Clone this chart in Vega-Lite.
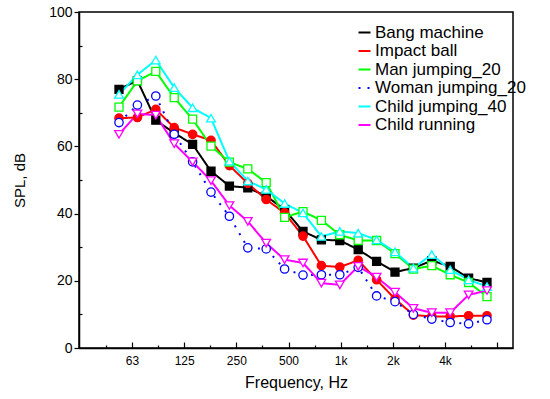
{
  "$schema": "https://vega.github.io/schema/vega-lite/v6.json",
  "width": 434,
  "height": 336,
  "autosize": "none",
  "padding": {"left": 79, "top": 12, "right": 37, "bottom": 51},
  "background": "white",
  "config": {
    "view": {"stroke": "black", "strokeWidth": 1.5},
    "font": "Liberation Sans"
  },
  "datasets": {
    "spl": [
      {"series":"Bang machine","band":0,"hz":50,"spl":77.0},{"series":"Bang machine","band":1,"hz":63,"spl":79.6},{"series":"Bang machine","band":2,"hz":80,"spl":67.8},{"series":"Bang machine","band":3,"hz":100,"spl":64.0},{"series":"Bang machine","band":4,"hz":125,"spl":60.6},{"series":"Bang machine","band":5,"hz":160,"spl":52.6},{"series":"Bang machine","band":6,"hz":200,"spl":48.2},{"series":"Bang machine","band":7,"hz":250,"spl":47.7},{"series":"Bang machine","band":8,"hz":315,"spl":45.2},{"series":"Bang machine","band":9,"hz":400,"spl":41.2},{"series":"Bang machine","band":10,"hz":500,"spl":34.7},{"series":"Bang machine","band":11,"hz":630,"spl":32.2},{"series":"Bang machine","band":12,"hz":800,"spl":32.0},{"series":"Bang machine","band":13,"hz":1000,"spl":29.3},{"series":"Bang machine","band":14,"hz":1250,"spl":25.8},{"series":"Bang machine","band":15,"hz":1600,"spl":22.6},{"series":"Bang machine","band":16,"hz":2000,"spl":23.8},{"series":"Bang machine","band":17,"hz":2500,"spl":26.0},{"series":"Bang machine","band":18,"hz":3150,"spl":24.3},{"series":"Bang machine","band":19,"hz":4000,"spl":20.8},{"series":"Bang machine","band":20,"hz":5000,"spl":19.5},
      {"series":"Impact ball","band":0,"hz":50,"spl":68.4},{"series":"Impact ball","band":1,"hz":63,"spl":68.6},{"series":"Impact ball","band":2,"hz":80,"spl":71.0},{"series":"Impact ball","band":3,"hz":100,"spl":65.6},{"series":"Impact ball","band":4,"hz":125,"spl":63.6},{"series":"Impact ball","band":5,"hz":160,"spl":61.8},{"series":"Impact ball","band":6,"hz":200,"spl":54.3},{"series":"Impact ball","band":7,"hz":250,"spl":49.0},{"series":"Impact ball","band":8,"hz":315,"spl":44.2},{"series":"Impact ball","band":9,"hz":400,"spl":40.2},{"series":"Impact ball","band":10,"hz":500,"spl":33.3},{"series":"Impact ball","band":11,"hz":630,"spl":24.5},{"series":"Impact ball","band":12,"hz":800,"spl":24.1},{"series":"Impact ball","band":13,"hz":1000,"spl":26.1},{"series":"Impact ball","band":14,"hz":1250,"spl":20.3},{"series":"Impact ball","band":15,"hz":1600,"spl":14.6},{"series":"Impact ball","band":16,"hz":2000,"spl":9.8},{"series":"Impact ball","band":17,"hz":2500,"spl":9.4},{"series":"Impact ball","band":18,"hz":3150,"spl":9.4},{"series":"Impact ball","band":19,"hz":4000,"spl":9.6},{"series":"Impact ball","band":20,"hz":5000,"spl":9.6},
      {"series":"Man jumping_20","band":0,"hz":50,"spl":71.7},{"series":"Man jumping_20","band":1,"hz":63,"spl":79.5},{"series":"Man jumping_20","band":2,"hz":80,"spl":82.3},{"series":"Man jumping_20","band":3,"hz":100,"spl":74.5},{"series":"Man jumping_20","band":4,"hz":125,"spl":68.1},{"series":"Man jumping_20","band":5,"hz":160,"spl":60.1},{"series":"Man jumping_20","band":6,"hz":200,"spl":55.3},{"series":"Man jumping_20","band":7,"hz":250,"spl":53.3},{"series":"Man jumping_20","band":8,"hz":315,"spl":49.2},{"series":"Man jumping_20","band":9,"hz":400,"spl":38.9},{"series":"Man jumping_20","band":10,"hz":500,"spl":40.6},{"series":"Man jumping_20","band":11,"hz":630,"spl":38.0},{"series":"Man jumping_20","band":12,"hz":800,"spl":33.7},{"series":"Man jumping_20","band":13,"hz":1000,"spl":32.0},{"series":"Man jumping_20","band":14,"hz":1250,"spl":32.0},{"series":"Man jumping_20","band":15,"hz":1600,"spl":28.1},{"series":"Man jumping_20","band":16,"hz":2000,"spl":23.5},{"series":"Man jumping_20","band":17,"hz":2500,"spl":24.5},{"series":"Man jumping_20","band":18,"hz":3150,"spl":21.8},{"series":"Man jumping_20","band":19,"hz":4000,"spl":19.5},{"series":"Man jumping_20","band":20,"hz":5000,"spl":15.3},
      {"series":"Woman jumping_20","band":0,"hz":50,"spl":67.1},{"series":"Woman jumping_20","band":1,"hz":63,"spl":72.3},{"series":"Woman jumping_20","band":2,"hz":80,"spl":75.0},{"series":"Woman jumping_20","band":3,"hz":100,"spl":63.6},{"series":"Woman jumping_20","band":4,"hz":125,"spl":55.4},{"series":"Woman jumping_20","band":5,"hz":160,"spl":46.4},{"series":"Woman jumping_20","band":6,"hz":200,"spl":39.2},{"series":"Woman jumping_20","band":7,"hz":250,"spl":29.8},{"series":"Woman jumping_20","band":8,"hz":315,"spl":29.5},{"series":"Woman jumping_20","band":9,"hz":400,"spl":23.5},{"series":"Woman jumping_20","band":10,"hz":500,"spl":21.7},{"series":"Woman jumping_20","band":11,"hz":630,"spl":21.8},{"series":"Woman jumping_20","band":12,"hz":800,"spl":21.8},{"series":"Woman jumping_20","band":13,"hz":1000,"spl":24.0},{"series":"Woman jumping_20","band":14,"hz":1250,"spl":15.5},{"series":"Woman jumping_20","band":15,"hz":1600,"spl":13.8},{"series":"Woman jumping_20","band":16,"hz":2000,"spl":10.0},{"series":"Woman jumping_20","band":17,"hz":2500,"spl":8.6},{"series":"Woman jumping_20","band":18,"hz":3150,"spl":7.6},{"series":"Woman jumping_20","band":19,"hz":4000,"spl":7.2},{"series":"Woman jumping_20","band":20,"hz":5000,"spl":8.4},
      {"series":"Child jumping_40","band":0,"hz":50,"spl":75.5},{"series":"Child jumping_40","band":1,"hz":63,"spl":81.3},{"series":"Child jumping_40","band":2,"hz":80,"spl":85.7},{"series":"Child jumping_40","band":3,"hz":100,"spl":77.5},{"series":"Child jumping_40","band":4,"hz":125,"spl":71.5},{"series":"Child jumping_40","band":5,"hz":160,"spl":68.4},{"series":"Child jumping_40","band":6,"hz":200,"spl":55.6},{"series":"Child jumping_40","band":7,"hz":250,"spl":49.7},{"series":"Child jumping_40","band":8,"hz":315,"spl":47.2},{"series":"Child jumping_40","band":9,"hz":400,"spl":43.0},{"series":"Child jumping_40","band":10,"hz":500,"spl":40.2},{"series":"Child jumping_40","band":11,"hz":630,"spl":33.2},{"series":"Child jumping_40","band":12,"hz":800,"spl":34.7},{"series":"Child jumping_40","band":13,"hz":1000,"spl":34.2},{"series":"Child jumping_40","band":14,"hz":1250,"spl":32.2},{"series":"Child jumping_40","band":15,"hz":1600,"spl":28.6},{"series":"Child jumping_40","band":16,"hz":2000,"spl":23.8},{"series":"Child jumping_40","band":17,"hz":2500,"spl":27.8},{"series":"Child jumping_40","band":18,"hz":3150,"spl":23.3},{"series":"Child jumping_40","band":19,"hz":4000,"spl":20.3},{"series":"Child jumping_40","band":20,"hz":5000,"spl":18.3},
      {"series":"Child running","band":0,"hz":50,"spl":63.6},{"series":"Child running","band":1,"hz":63,"spl":69.7},{"series":"Child running","band":2,"hz":80,"spl":69.3},{"series":"Child running","band":3,"hz":100,"spl":60.8},{"series":"Child running","band":4,"hz":125,"spl":55.4},{"series":"Child running","band":5,"hz":160,"spl":49.8},{"series":"Child running","band":6,"hz":200,"spl":42.4},{"series":"Child running","band":7,"hz":250,"spl":37.7},{"series":"Child running","band":8,"hz":315,"spl":31.2},{"series":"Child running","band":9,"hz":400,"spl":26.3},{"series":"Child running","band":10,"hz":500,"spl":25.3},{"series":"Child running","band":11,"hz":630,"spl":19.3},{"series":"Child running","band":12,"hz":800,"spl":18.8},{"series":"Child running","band":13,"hz":1000,"spl":24.3},{"series":"Child running","band":14,"hz":1250,"spl":21.1},{"series":"Child running","band":15,"hz":1600,"spl":16.6},{"series":"Child running","band":16,"hz":2000,"spl":11.8},{"series":"Child running","band":17,"hz":2500,"spl":10.5},{"series":"Child running","band":18,"hz":3150,"spl":10.5},{"series":"Child running","band":19,"hz":4000,"spl":15.8},{"series":"Child running","band":20,"hz":5000,"spl":17.1}
    ]
  },
  "data": {"name": "spl"},
  "encoding": {
    "x": {
      "field": "band",
      "type": "quantitative",
      "scale": {"domain": [-2.174, 21.413], "nice": false, "zero": false},
      "axis": {
        "title": "Frequency, Hz",
        "titleFontSize": 16,
        "titleFontWeight": "normal",
        "titleColor": "black",
        "titlePadding": 5,
        "values": [-0.711, 0.707, 2.124, 3.542, 4.959, 6.377, 7.794, 9.212, 10.629, 12.047, 13.464, 14.882, 16.299, 17.717, 19.134, 20.552],
        "labelExpr": "['63','','125','','250','','500','','1k','','2k','','4k'][round((datum.value-0.707)/1.4175)] || ''",
        "tickSize": {"condition": {"test": "round((datum.value-0.707)/1.4175) % 2 == 0", "value": -6}, "value": -3},
        "labelPadding": 13,
        "labelFontSize": 12,
        "labelColor": "black",
        "labelFlush": false,
        "labelOverlap": false,
        "grid": false,
        "domainColor": "black",
        "domainWidth": 1.5,
        "tickColor": "black",
        "tickWidth": 1.2
      }
    },
    "y": {
      "field": "spl",
      "type": "quantitative",
      "scale": {"domain": [0, 100], "nice": false},
      "axis": {
        "title": "SPL, dB",
        "titleFontSize": 15,
        "titleFontWeight": "normal",
        "titleColor": "black",
        "titlePadding": 21,
        "values": [0, 10, 20, 30, 40, 50, 60, 70, 80, 90, 100],
        "labelExpr": "datum.value % 20 == 0 ? datum.label : ''",
        "tickSize": {"condition": {"test": "datum.value % 20 == 0", "value": 5}, "value": -3},
        "labelPadding": 2,
        "labelFontSize": 14,
        "labelColor": "black",
        "labelOverlap": false,
        "grid": false,
        "domainColor": "black",
        "domainWidth": 1.5,
        "tickColor": "black",
        "tickWidth": 1.2
      }
    }
  },
  "layer": [
    {
      "mark": {"type": "line", "strokeWidth": 2},
      "encoding": {
        "color": {
          "field": "series",
          "type": "nominal",
          "scale": {
            "domain": ["Bang machine", "Impact ball", "Man jumping_20", "Woman jumping_20", "Child jumping_40", "Child running"],
            "range": ["#000000", "#ff0000", "#00ff00", "#0000ff", "#00ffff", "#ff00ff"]
          },
          "legend": {
            "title": null,
            "orient": "none",
            "legendX": 277,
            "legendY": 12,
            "symbolType": "stroke",
            "symbolSize": 144,
            "symbolStrokeWidth": 2,
            "labelFontSize": 17,
            "labelColor": "black",
            "labelOffset": 2,
            "rowPadding": 0.5,
            "labelLimit": 300
          }
        },
        "strokeDash": {
          "field": "series",
          "type": "nominal",
          "scale": {
            "domain": ["Bang machine", "Impact ball", "Man jumping_20", "Woman jumping_20", "Child jumping_40", "Child running"],
            "range": [[1, 0], [1, 0], [1, 0], [2, 7], [1, 0], [1, 0]]
          },
          "legend": {
            "title": null,
            "orient": "none",
            "legendX": 277,
            "legendY": 12,
            "symbolType": "stroke",
            "symbolSize": 144,
            "symbolStrokeWidth": 2,
            "labelFontSize": 17,
            "labelColor": "black",
            "labelOffset": 2,
            "rowPadding": 0.5,
            "labelLimit": 300
          }
        }
      }
    },
    {
      "transform": [{"filter": "datum.series === 'Bang machine'"}],
      "mark": {"type": "point", "shape": "square", "filled": true, "fill": "#000000", "stroke": "#000000", "size": 64, "strokeWidth": 1.3, "opacity": 1}
    },
    {
      "transform": [{"filter": "datum.series === 'Impact ball'"}],
      "mark": {"type": "point", "shape": "circle", "filled": true, "fill": "#ff0000", "stroke": "#ff0000", "size": 70, "strokeWidth": 1.3, "opacity": 1}
    },
    {
      "transform": [{"filter": "datum.series === 'Man jumping_20'"}],
      "mark": {"type": "point", "shape": "square", "filled": true, "fill": "#ffffff", "stroke": "#00ff00", "size": 64, "strokeWidth": 1.3, "opacity": 1}
    },
    {
      "transform": [{"filter": "datum.series === 'Woman jumping_20'"}],
      "mark": {"type": "point", "shape": "circle", "filled": true, "fill": "#ffffff", "stroke": "#0000ff", "size": 70, "strokeWidth": 1.3, "opacity": 1}
    },
    {
      "transform": [{"filter": "datum.series === 'Child jumping_40'"}],
      "mark": {"type": "point", "shape": "triangle-up", "filled": true, "fill": "#ffffff", "stroke": "#00ffff", "size": 75, "strokeWidth": 1.3, "opacity": 1}
    },
    {
      "transform": [{"filter": "datum.series === 'Child running'"}],
      "mark": {"type": "point", "shape": "triangle-down", "filled": true, "fill": "#ffffff", "stroke": "#ff00ff", "size": 75, "strokeWidth": 1.3, "opacity": 1}
    }
  ]
}
